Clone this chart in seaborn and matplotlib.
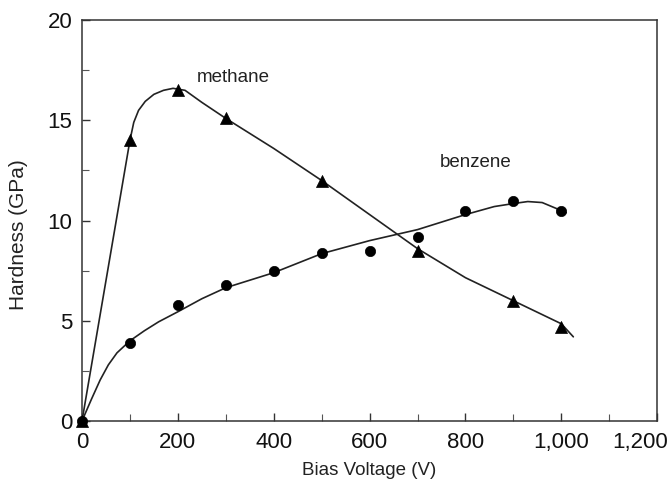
import numpy as np
import pandas as pd
import matplotlib
matplotlib.use("Agg")
import matplotlib.pyplot as plt
from matplotlib.ticker import MultipleLocator, FuncFormatter
import seaborn as sns

# measured points
methane_v = [0, 100, 200, 300, 500, 700, 900, 1000]
methane_h = [0, 14.0, 16.5, 15.1, 12.0, 8.5, 6.0, 4.7]
benzene_v = [0, 100, 200, 300, 400, 500, 600, 700, 800, 900, 1000]
benzene_h = [0, 3.9, 5.8, 6.8, 7.5, 8.4, 8.5, 9.2, 10.5, 11.0, 10.5]

# fitted curves
methane_fit_v = [0, 65, 100, 108, 118, 132, 150, 170, 190, 215, 250, 300, 400, 500, 600, 700, 800, 900, 1000, 1025]
methane_fit_h = [0, 9.1, 14.0, 14.9, 15.5, 15.95, 16.3, 16.5, 16.6, 16.5, 15.9, 15.1, 13.6, 12.0, 10.3, 8.6, 7.15, 6.0, 4.85, 4.2]
benzene_fit_v = [0, 20, 38, 55, 73, 100, 130, 160, 200, 250, 300, 400, 500, 600, 700, 800, 860, 900, 930, 960, 1010]
benzene_fit_h = [0, 1.1, 2.05, 2.8, 3.4, 4.0, 4.5, 4.95, 5.45, 6.1, 6.65, 7.4, 8.35, 9.0, 9.55, 10.3, 10.7, 10.85, 10.95, 10.9, 10.4]

x_max = 1200

sns.set_theme(style="white")
plt.rcParams["font.family"] = ["Liberation Sans", "DejaVu Sans"]

fig = plt.figure(figsize=(6.72, 4.82), dpi=100)
ax = fig.add_axes([0.122, 0.1266, 0.856, 0.8315])

line_col = "#222222"
sns.lineplot(x=methane_fit_v, y=methane_fit_h, ax=ax, color=line_col, lw=1.2, sort=False)
sns.lineplot(x=benzene_fit_v, y=benzene_fit_h, ax=ax, color=line_col, lw=1.2, sort=False)

sns.scatterplot(x=methane_v, y=methane_h, ax=ax, marker="^", s=75, color="black",
                edgecolor="black", linewidth=0.5, zorder=5, clip_on=False)
sns.scatterplot(x=benzene_v, y=benzene_h, ax=ax, marker="o", s=55, color="black",
                edgecolor="black", linewidth=0.5, zorder=5, clip_on=False)

ax.text(240, 17.15, "methane", fontsize=13.5, color="#222222", va="center", ha="left")
ax.text(747, 12.9, "benzene", fontsize=13.5, color="#222222", va="center", ha="left")

ax.set_xlim(0, x_max)
ax.set_ylim(0, 20)
ax.xaxis.set_major_locator(MultipleLocator(200))
ax.xaxis.set_minor_locator(MultipleLocator(100))
ax.yaxis.set_major_locator(MultipleLocator(5))
ax.yaxis.set_minor_locator(MultipleLocator(2.5))
# last label is drawn separately, shifted left of its tick as in the original
ax.xaxis.set_major_formatter(FuncFormatter(lambda v, p: "" if v >= x_max else f"{int(v):,}"))
ax.annotate(f"{x_max:,}", xy=(x_max, 0), xycoords=("data", "axes fraction"),
            xytext=(-12.5, -8), textcoords="offset points", ha="center", va="top",
            fontsize=16, color="#111111", annotation_clip=False)

ax.tick_params(axis="both", which="major", direction="in", length=6, width=1,
               labelsize=16, color="#333333", labelcolor="#111111",
               top=False, right=False, bottom=True, left=True)
ax.tick_params(axis="x", which="major", pad=8)
ax.tick_params(axis="y", which="major", pad=7)
ax.tick_params(axis="both", which="minor", direction="in", length=5, width=0.8,
               color="#555555", top=False, right=False, bottom=True, left=True)
for sp in ax.spines.values():
    sp.set_color("#333333")
    sp.set_linewidth(1.1)

ax.set_xlabel("Bias Voltage (V)", fontsize=13.5, color="#222222")
ax.set_ylabel("Hardness (GPa)", fontsize=15, color="#222222")
ax.xaxis.set_label_coords(0.5, -0.102)
ax.yaxis.set_label_coords(-0.094, 0.465)

fig.savefig("out.png", dpi=100)
